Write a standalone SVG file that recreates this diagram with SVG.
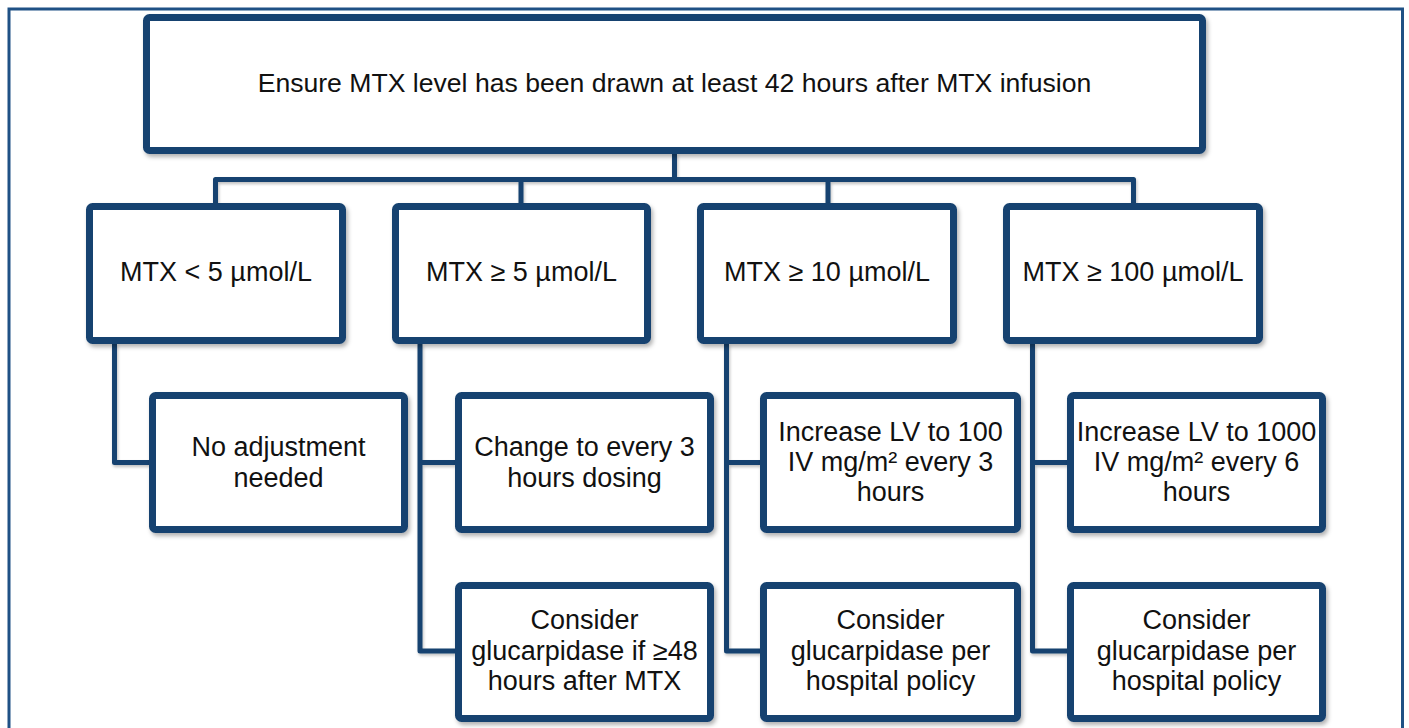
<svg xmlns="http://www.w3.org/2000/svg" width="1409" height="728" viewBox="0 0 1409 728">
<defs>
<filter id="sh" x="-5%" y="-10%" width="115%" height="130%">
<feDropShadow dx="2" dy="3" stdDeviation="2" flood-color="#000" flood-opacity="0.3"/>
</filter>
<filter id="shl" x="-5%" y="-50%" width="110%" height="200%">
<feDropShadow dx="1" dy="2" stdDeviation="1.5" flood-color="#000" flood-opacity="0.25"/>
</filter>
<style>
.box{fill:#fff;stroke:#16426F;stroke-width:7;filter:url(#sh)}
.ln{fill:none;stroke:#16426F;stroke-width:5;stroke-linejoin:round}
.t{font-family:"Liberation Sans",Arial,sans-serif;font-size:27px;fill:#111;text-anchor:middle}
</style>
</defs>
<rect x="0" y="0" width="1409" height="728" fill="#fff"/>
<rect x="9" y="9" width="1393.5" height="740" fill="none" stroke="#1F5185" stroke-width="3"/>

<g id="connectors" filter="url(#shl)">
<path class="ln" d="M674.5 154V179.5M215.5 203V179.5H1133.5V203M521 179.5V203M828 179.5V203"/>
<path class="ln" d="M114.5 344V462.5H149"/>
<path class="ln" d="M420 344V651H455M420 462.5H455"/>
<path class="ln" d="M726.5 344V651H760M726.5 462.5H760"/>
<path class="ln" d="M1032.5 344V651H1067M1032.5 462.5H1067"/>
</g>

<g id="top">
<rect class="box" x="146.5" y="17.5" width="1056" height="133" rx="3"/>
<text class="t" x="674.5" y="92" style="font-size:26.6px">Ensure MTX level has been drawn at least 42 hours after MTX infusion</text>
</g>

<g id="lt5">
<rect class="box" x="89.5" y="206.5" width="253" height="134" rx="3"/>
<text class="t" x="216" y="281">MTX &lt; 5 µmol/L</text>
</g>
<g id="ge5">
<rect class="box" x="395.5" y="206.5" width="252" height="134" rx="3"/>
<text class="t" x="521.5" y="281">MTX ≥ 5 µmol/L</text>
</g>
<g id="ge10">
<rect class="box" x="700.5" y="206.5" width="253" height="134" rx="3"/>
<text class="t" x="827" y="281">MTX ≥ 10 µmol/L</text>
</g>
<g id="ge100">
<rect class="box" x="1006.5" y="206.5" width="253" height="134" rx="3"/>
<text class="t" x="1133" y="281">MTX ≥ 100 µmol/L</text>
</g>

<g id="noadj">
<rect class="box" x="152.5" y="395.5" width="252" height="134" rx="3"/>
<text class="t" x="278.5" y="456">No adjustment</text>
<text class="t" x="278.5" y="487">needed</text>
</g>
<g id="change3">
<rect class="box" x="458.5" y="395.5" width="252" height="134" rx="3"/>
<text class="t" x="584.5" y="456">Change to every 3</text>
<text class="t" x="584.5" y="487">hours dosing</text>
</g>
<g id="lv100">
<rect class="box" x="763.5" y="395.5" width="254" height="134" rx="3"/>
<text class="t" x="890.5" y="441">Increase LV to 100</text>
<text class="t" x="890.5" y="471">IV mg/m² every 3</text>
<text class="t" x="890.5" y="501">hours</text>
</g>
<g id="lv1000">
<rect class="box" x="1070.5" y="395.5" width="252" height="134" rx="3"/>
<text class="t" x="1196.5" y="441">Increase LV to 1000</text>
<text class="t" x="1196.5" y="471">IV mg/m² every 6</text>
<text class="t" x="1196.5" y="501">hours</text>
</g>

<g id="gluc48">
<rect class="box" x="458.5" y="585.5" width="252" height="133" rx="3"/>
<text class="t" x="584.5" y="629">Consider</text>
<text class="t" x="584.5" y="660">glucarpidase if ≥48</text>
<text class="t" x="584.5" y="690">hours after MTX</text>
</g>
<g id="gluc10">
<rect class="box" x="763.5" y="585.5" width="254" height="133" rx="3"/>
<text class="t" x="890.5" y="629">Consider</text>
<text class="t" x="890.5" y="660">glucarpidase per</text>
<text class="t" x="890.5" y="690">hospital policy</text>
</g>
<g id="gluc100">
<rect class="box" x="1070.5" y="585.5" width="252" height="133" rx="3"/>
<text class="t" x="1196.5" y="629">Consider</text>
<text class="t" x="1196.5" y="660">glucarpidase per</text>
<text class="t" x="1196.5" y="690">hospital policy</text>
</g>
</svg>
